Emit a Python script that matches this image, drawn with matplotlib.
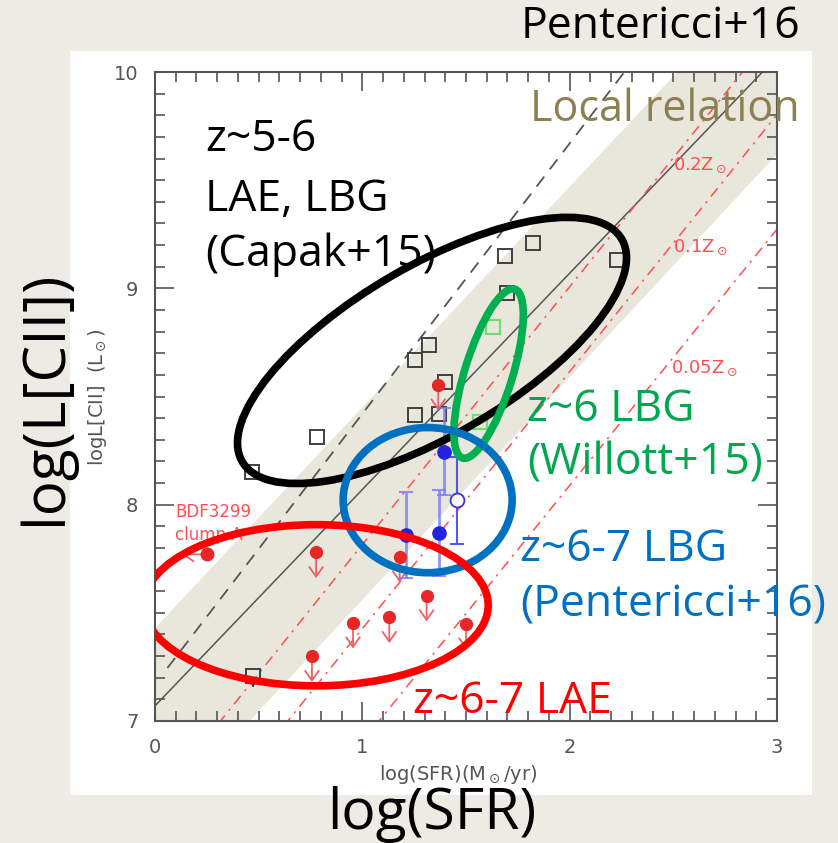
import matplotlib
matplotlib.use('Agg')
import matplotlib.pyplot as plt
from matplotlib.patches import Ellipse, Rectangle
import numpy as np

# Capak+15 z~5-6 LAE/LBG (open squares)
capak_sfr = [0.47, 0.78, 1.254, 1.254, 1.32, 1.40, 1.37, 1.69, 1.70, 1.824, 2.23]
capak_lcii = [8.15, 8.315, 8.415, 8.67, 8.74, 8.565, 8.42, 9.15, 8.98, 9.21, 9.13]
capak_lim_sfr = [0.473]
capak_lim_lcii = [7.21]

# Willott+15 z~6 LBG
willott_sfr = [1.63, 1.567]
willott_lcii = [8.82, 8.38]

# Pentericci+16 z~6-7 LBG detections (filled) and tentative (open)
lbg_sfr = [1.21, 1.37, 1.394]
lbg_lcii = [7.86, 7.87, 8.245]
lbg_err = [0.20, 0.20, 0.20]
lbg_open_sfr = [1.458]
lbg_open_lcii = [8.02]
lbg_open_err = [0.20]

# z~6-7 LAE upper limits on L[CII]
lae_sfr = [0.777, 0.757, 0.955, 1.13, 1.31, 1.50, 1.18, 1.366]
lae_lcii = [7.78, 7.30, 7.455, 7.48, 7.58, 7.45, 7.76, 8.555]
# BDF3299 clump A (upper limit on SFR)
bdf_sfr = [0.251]
bdf_lcii = [7.77]

# local relation: solid line and dispersion band
local_a, local_b = 7.07, 1.0
band_hi_a, band_hi_b = 7.43, 1.02
band_lo_a, band_lo_b = 6.53, 1.03
dash_a, dash_b = 7.17, 1.25
dash_xmin = 0.06

# Vallini+15 relation at sub-solar metallicity
metals = [0.2, 0.1, 0.05]
metal_labels = ['0.2Z$_\\odot$', '0.1Z$_\\odot$', '0.05Z$_\\odot$']

BG = '#EEEBE4'
BAND = '#E9E6DC'
SANS = ['Open Sans', 'DejaVu Sans']

fig = plt.figure(figsize=(8.38, 8.43), dpi=100, facecolor=BG)
fig.patches.append(Rectangle((70 / 838, 1 - 795 / 843), 742 / 838, 744 / 843,
                             transform=fig.transFigure, facecolor='white',
                             edgecolor='none', zorder=-10))
ax = fig.add_axes([155 / 838, 1 - 721 / 843, 622 / 838, 649 / 843])
ax.set_zorder(1)
ax.set_facecolor('white')
ax.set_xlim(0, 3)
ax.set_ylim(7, 10)

xx = np.linspace(0, 3, 200)
ax.fill_between(xx, band_lo_a + band_lo_b * xx, band_hi_a + band_hi_b * xx,
                color=BAND, lw=0, zorder=1)
ax.plot(xx, local_a + local_b * xx, color='#555555', lw=1.1, zorder=2)
xd = np.linspace(dash_xmin, 3, 200)
ax.plot(xd, dash_a + dash_b * xd, color='#555555', lw=1.3,
        dashes=(7, 5), zorder=2)

for z in metals:
    lz = np.log10(z)
    yz = 7.0 + 1.2 * xx + 0.021 * lz + 0.012 * xx * lz - 0.74 * lz ** 2
    ax.plot(xx, yz, color='#FF5050', lw=1.1, dashes=(7, 4, 1.5, 4), zorder=2)

label_pos = [(2.50, 9.57), (2.50, 9.19), (2.49, 8.63)]
for (lx, ly), lab in zip(label_pos, metal_labels):
    ax.text(lx, ly, lab, color='#FF5050', fontsize=13, va='center', ha='left',
            zorder=3)

# data
ax.plot(capak_sfr, capak_lcii, 's', ms=10, mfc='none', mec='#404040',
        mew=1.4, zorder=4)
ax.plot(capak_lim_sfr, capak_lim_lcii, 's', ms=10, mfc='none', mec='#404040',
        mew=1.4, zorder=4)
for x, y in zip(capak_lim_sfr, capak_lim_lcii):
    ax.annotate('', xy=(x, y - 0.07), xytext=(x, y),
                arrowprops=dict(arrowstyle='-|>', color='#404040', lw=1,
                                mutation_scale=6), zorder=4)
ax.plot(willott_sfr, willott_lcii, 's', ms=10, mfc='none', mec='#6FE06F',
        mew=1.6, zorder=4)

for x, y in zip(lae_sfr, lae_lcii):
    ax.annotate('', xy=(x, y - 0.12), xytext=(x, y),
                arrowprops=dict(arrowstyle='->,head_length=0.5,head_width=0.35',
                                color='#F06060', lw=1.3, mutation_scale=14,
                                shrinkA=0, shrinkB=0),
                zorder=4)
ax.plot(lae_sfr, lae_lcii, 'o', ms=8.5, color='#E82626', zorder=5)
for x, y in zip(bdf_sfr, bdf_lcii):
    ax.annotate('', xy=(x - 0.12, y), xytext=(x, y),
                arrowprops=dict(arrowstyle='->,head_length=0.5,head_width=0.35',
                                color='#F06060', lw=1.3, mutation_scale=14,
                                shrinkA=0, shrinkB=0),
                zorder=4)
ax.plot(bdf_sfr, bdf_lcii, 'o', ms=9, color='#E82626', zorder=5)
ax.text(0.097, 7.966, 'BDF3299', color='#FF5050', fontsize=12, va='center')
ax.text(0.097, 7.86, 'clump A', color='#FF5050', fontsize=12, va='center')

ax.errorbar(lbg_sfr, lbg_lcii, yerr=lbg_err, fmt='none', ecolor='#7878FF',
            elinewidth=2, capsize=5, capthick=1.5, alpha=0.8, zorder=4)
ax.plot(lbg_sfr, lbg_lcii, 'o', ms=9.5, color='#2222E0', zorder=5)
ax.errorbar(lbg_open_sfr, lbg_open_lcii, yerr=lbg_open_err, fmt='none',
            ecolor='#5555F0', elinewidth=1.5, capsize=5, capthick=1.5,
            zorder=4)
ax.plot(lbg_open_sfr, lbg_open_lcii, 'o', ms=10, mfc='white', mec='#3333E8',
        mew=1.3, zorder=5)

# group outlines
rings = [
    ((1.336, 8.713), 2.10, 0.79, 29, '#000000'),
    ((1.609, 8.606), 0.82, 0.23, 72, '#00B050'),
    ((1.315, 8.021), 0.815, 0.671, 0, '#0070C0'),
    ((0.777, 7.535), 1.66, 0.745, 0, '#FF0000'),
]
for c, w, h, ang, col in rings:
    ax.add_patch(Ellipse(c, w, h, angle=ang, fill=False, edgecolor=col,
                         lw=5.5, zorder=6))

# group labels
big = 32
for i, t in enumerate(['z~5-6', 'LAE, LBG', '(Capak+15)']):
    ax.text(0.241, [9.686, 9.409, 9.154][i], t, fontsize=big, family=SANS,
            va='center', ha='left', zorder=7)
ax.text(1.809, 9.825, 'Local relation', fontsize=31, family=SANS,
        color='#8C8050', va='center', ha='left', zorder=7)
ax.text(1.795, 8.438, 'z~6 LBG', fontsize=big, family=SANS, color='#00A650',
        va='center', ha='left', zorder=7)
ax.text(1.795, 8.193, '(Willott+15)', fontsize=big, family=SANS,
        color='#00A650', va='center', ha='left', zorder=7)
ax.text(1.761, 7.79, 'z~6-7 LBG', fontsize=big, family=SANS, color='#0070C0',
        va='center', ha='left', zorder=7)
ax.text(1.761, 7.536, '(Pentericci+16)', fontsize=big, family=SANS,
        color='#0070C0', va='center', ha='left', zorder=7)
ax.text(1.245, 7.088, 'z~6-7 LAE', fontsize=big, family=SANS, color='#FF0000',
        va='center', ha='left', zorder=7)

# axes styling
ax.set_xticks([0, 1, 2, 3])
ax.set_yticks([7, 8, 9, 10])
ax.set_xticks(np.arange(0, 3.01, 0.1), minor=True)
ax.set_yticks(np.arange(7, 10.01, 0.1), minor=True)
ax.tick_params(which='both', direction='in', top=True, right=True,
               color='#555555', width=1.2)
ax.tick_params(which='major', length=14, labelsize=14, labelcolor='#555555',
               pad=12)
ax.tick_params(which='minor', length=7)
for sp in ax.spines.values():
    sp.set_color('#555555')
    sp.set_linewidth(1.5)

fig.text(458 / 838, 1 - 775 / 843, r'log(SFR)(M$_\odot$/yr)', fontsize=14,
         color='#555555', ha='center', va='center')
fig.text(97 / 838, 1 - 397 / 843, r'logL[CII]  (L$_\odot$)', fontsize=14,
         color='#555555', ha='center', va='center', rotation=90)
fig.text(432 / 838, 1 - 829 / 843, 'log(SFR)', fontsize=41, family=SANS,
         ha='center', va='baseline')
fig.text(46 / 838, 1 - 398 / 843, 'log(L[CII])', fontsize=42, family=SANS,
         ha='center', va='center', rotation=90)
fig.text(800 / 838, 1 - 27 / 843, 'Pentericci+16', fontsize=32, family=SANS,
         ha='right', va='center')

fig.savefig('out.png', dpi=100, facecolor=BG)
